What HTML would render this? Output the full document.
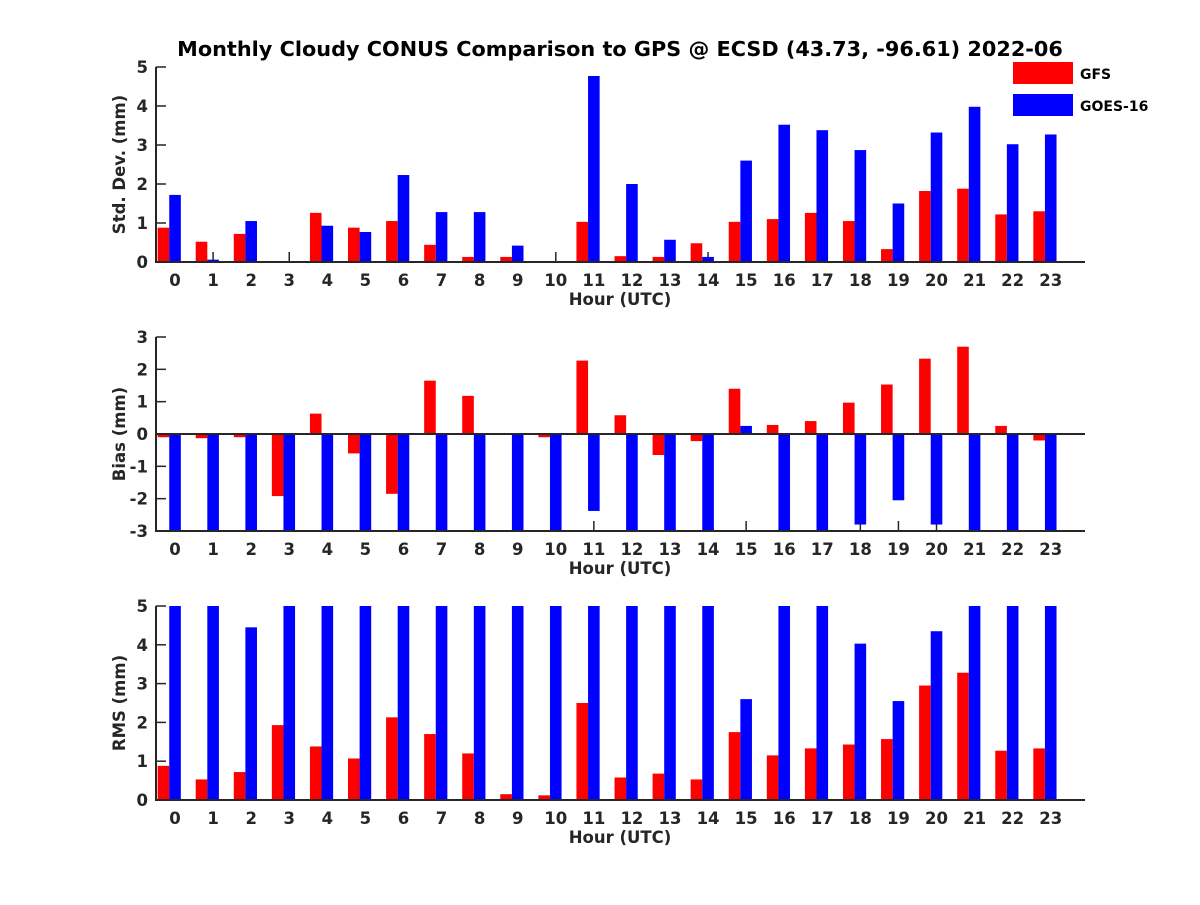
<!DOCTYPE html>
<html><head><meta charset="utf-8"><style>
body{margin:0;background:#fff}
svg text{font-family:"DejaVu Sans","Liberation Sans",sans-serif;font-weight:bold;fill:#262626}
</style></head><body>
<svg id="c" width="1200" height="900" xmlns="http://www.w3.org/2000/svg">
<rect width="1200" height="900" fill="#fff"/>
<text x="620" y="56" font-size="20.8" text-anchor="middle" style="fill:#000">Monthly Cloudy CONUS Comparison to GPS @ ECSD (43.73, -96.61) 2022-06</text>
<g>
<rect x="1013" y="62" width="60" height="22" fill="#f00"/>
<text x="1080" y="79" font-size="14" style="fill:#000">GFS</text>
<rect x="1013" y="94" width="60" height="22" fill="#00f"/>
<text x="1080" y="111" font-size="14" style="fill:#000">GOES-16</text>
</g>
</svg>
<script>
const hours=[0,1,2,3,4,5,6,7,8,9,10,11,12,13,14,15,16,17,18,19,20,21,22,23];
const stdGFS=[0.88,0.52,0.72,0,1.26,0.88,1.05,0.44,0.13,0.13,0,1.03,0.15,0.13,0.48,1.03,1.1,1.26,1.05,0.33,1.82,1.88,1.22,1.3];
const stdGOES=[1.72,0.06,1.05,0,0.93,0.77,2.23,1.28,1.28,0.42,0,4.77,2.0,0.57,0.13,2.6,3.52,3.38,2.87,1.5,3.32,3.98,3.02,3.27];
const biasGFS=[-0.1,-0.13,-0.1,-1.92,0.63,-0.6,-1.85,1.65,1.18,0.02,-0.1,2.27,0.58,-0.65,-0.22,1.4,0.28,0.4,0.97,1.53,2.33,2.7,0.25,-0.2];
const biasGOES=[-4,-4,-4,-4,-4,-4,-4,-4,-4,-4,-4,-2.38,-4,-4,-4,0.25,-4,-4,-2.8,-2.05,-2.8,-4,-4,-4];
const rmsGFS=[0.88,0.53,0.72,1.93,1.38,1.07,2.13,1.7,1.2,0.15,0.12,2.5,0.58,0.68,0.53,1.75,1.15,1.33,1.43,1.57,2.95,3.28,1.27,1.33];
const rmsGOES=[6,6,4.45,6,6,6,6,6,6,6,6,6,6,6,6,2.6,6,6,4.03,2.55,4.35,6,6,6];
const stdTicks=[0,1,2,3,4,5];
const biasTicks=[-3,-2,-1,0,1,2,3];
const rmsTicks=[0,1,2,3,4,5];

const NS="http://www.w3.org/2000/svg";
const svg=document.getElementById('c');
function mk(t,a,p){const e=document.createElementNS(NS,t);for(const k in a)e.setAttribute(k,a[k]);(p||svg).appendChild(e);return e;}
const X0=156,X1=1085,xr0=-0.5,xr1=23.9;
function xs(h){return X0+(h-xr0)/(xr1-xr0)*(X1-X0);}
const bw=11.6;
function panel(id,top,bot,ymin,ymax,ticks,label,gfs,goes){
  const ys=v=>bot-(v-ymin)/(ymax-ymin)*(bot-top);
  const g=mk('g',{});
  
  
  hours.forEach(h=>{
    mk('line',{x1:xs(h),x2:xs(h),y1:bot,y2:bot-10,stroke:'#262626','stroke-width':1.5},g);
  });
  const cp=mk('clipPath',{id:'cp'+id},g);
  mk('rect',{x:X0,y:top,width:X1-X0,height:bot-top},cp);
  const bars=mk('g',{'clip-path':'url(#cp'+id+')'},g);
  const base=ys(Math.max(ymin,0));
  hours.forEach((h,i)=>{
    const c=xs(h);
    [[gfs[i],'#f00',c-1.5*bw,'gfs'],[goes[i],'#00f',c-0.5*bw,'goes16']].forEach(([v,col,x,s])=>{
      const y=ys(v);
      const r=mk('rect',{x:x,y:Math.min(y,base),width:bw,height:Math.abs(y-base),fill:col},bars);
      
      
    });
  });
  if(ymin<0){const z=mk('line',{x1:X0,x2:X1,y1:ys(0),y2:ys(0),stroke:'#262626','stroke-width':2},g);
    }
  const ax=mk('path',{d:`M${X0},${top}V${bot}H${X1}`,fill:'none',stroke:'#262626','stroke-width':2},g);
  
  ticks.forEach(t=>{
    mk('line',{x1:X0,x2:X0+10,y1:ys(t),y2:ys(t),stroke:'#262626','stroke-width':1.5},g);
    const tx=mk('text',{x:X0-8,y:ys(t)+6,'font-size':16.5,'text-anchor':'end'},g);tx.textContent=t;
    
  });
  hours.forEach(h=>{
    const tx=mk('text',{x:xs(h),y:bot+24,'font-size':16.5,'text-anchor':'middle'},g);tx.textContent=h;
    
  });
  const xl=mk('text',{x:620,y:bot+43,'font-size':16.5,'text-anchor':'middle'},g);xl.textContent='Hour (UTC)';
  
  const cy=(top+bot)/2;
  const yl=mk('text',{x:0,y:0,'font-size':16.5,'text-anchor':'middle',transform:`translate(${X0-31},${cy}) rotate(-90)`},g);yl.textContent=label;
  
}
panel('std',67,262,0,5,stdTicks,'Std. Dev. (mm)',stdGFS,stdGOES);
panel('bias',337,531,-3,3,biasTicks,'Bias (mm)',biasGFS,biasGOES);
panel('rms',606,800,0,5,rmsTicks,'RMS (mm)',rmsGFS,rmsGOES);
</script>
</body></html>
